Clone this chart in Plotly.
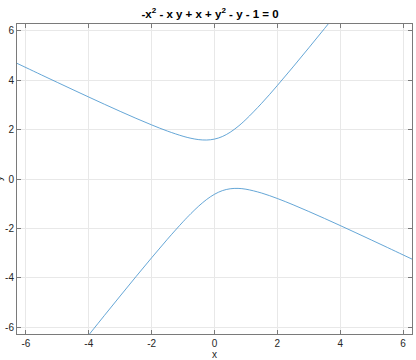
import plotly.graph_objects as go

# Upper branch of the curve
upper_x = [-6.2832, -6, -5.5, -5, -4.5, -4, -3.5, -3, -2.5, -2, -1.5, -1, -0.75, -0.5, -0.25,
           0, 0.25, 0.5, 0.75, 1, 1.5, 2, 2.5, 3, 3.5, 4]
upper_y = [4.689, 4.518, 4.216, 3.916, 3.618, 3.322, 3.029, 2.742, 2.461, 2.193, 1.944, 1.732,
           1.651, 1.596, 1.580, 1.618, 1.722, 1.896, 2.131, 2.414, 3.070, 3.791, 4.545, 5.317,
           6.099, 6.887]

# Lower branch of the curve
lower_x = [-4, -3.5, -3, -2.5, -2, -1.5, -1, -0.75, -0.5, -0.25, 0, 0.25, 0.5, 0.75, 1, 1.5,
           2, 2.5, 3, 3.5, 4, 4.5, 5, 5.5, 6, 6.2832]
lower_y = [-6.322, -5.529, -4.742, -3.961, -3.193, -2.444, -1.732, -1.401, -1.096, -0.830,
           -0.618, -0.472, -0.396, -0.381, -0.414, -0.570, -0.791, -1.045, -1.317, -1.599,
           -1.887, -2.181, -2.477, -2.776, -3.077, -3.247]

tick_vals = [-6, -4, -2, 0, 2, 4, 6]
tick_text = ["-6", "-4", "-2", "0", "2", "4", "6"]
axis_lim = [-6.2832, 6.2832]

title_text = "<b>-x<sup>2</sup> - x y + x + y<sup>2</sup> - y - 1 = 0</b>"

line_color = "#3d8fcc"
FONT = "Liberation Sans, Arial, sans-serif"

fig = go.Figure()
for xs, ys in [(upper_x, upper_y), (lower_x, lower_y)]:
    fig.add_trace(go.Scatter(x=xs, y=ys, mode="lines",
                             line=dict(color=line_color, width=0.8, shape="spline"),
                             showlegend=False, hoverinfo="skip"))

axis_common = dict(
    range=axis_lim,
    tickvals=tick_vals,
    ticktext=tick_text,
    showgrid=True,
    gridcolor="#e8e8e8",
    gridwidth=1,
    zeroline=False,
    showline=True,
    linecolor="#7a7a7a",
    linewidth=1,
    mirror="ticks",
    ticks="inside",
    ticklen=4,
    tickcolor="#7a7a7a",
    tickfont=dict(family=FONT, size=10, color="#262626"),
)

fig.update_layout(
    width=416,
    height=360,
    margin=dict(l=17, r=3, t=24, b=22),
    paper_bgcolor="white",
    plot_bgcolor="white",
    title=dict(text=title_text, x=0.505, xanchor="center", y=0.962, yanchor="middle",
               font=dict(family=FONT, size=11.5, color="#000000")),
    xaxis=dict(**axis_common,
               title=dict(text="x", standoff=1,
                          font=dict(family=FONT, size=10, color="#262626"))),
    yaxis=dict(**axis_common),
)

fig.add_annotation(text="y", xref="paper", yref="paper", x=0, y=0.5, xshift=-19,
                   textangle=-90, showarrow=False, xanchor="center", yanchor="middle",
                   font=dict(family=FONT, size=10, color="#262626"))

fig.write_html("out.html")
